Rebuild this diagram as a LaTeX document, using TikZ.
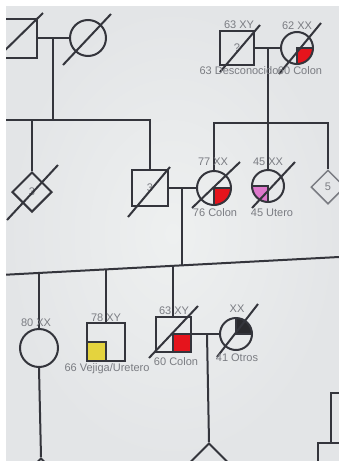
\documentclass[tikz,border=0pt]{standalone}
\usepackage{fontspec}
\setmainfont{Liberation Sans}
\usetikzlibrary{shapes.geometric,calc}
\definecolor{ink}{HTML}{34353C}
\definecolor{labc}{HTML}{7A7C82}
\definecolor{bgc}{HTML}{E3E5E7}
\definecolor{bgin}{HTML}{EEF0F0}
\definecolor{fred}{HTML}{E5141C}
\definecolor{fyel}{HTML}{E4D33E}
\definecolor{fpink}{HTML}{DE78CC}
\definecolor{fblk}{HTML}{2A2A2E}
\begin{document}
\begin{tikzpicture}[x=1pt,y=-1pt,
  conn/.style={draw=ink,line width=2pt},
  slash/.style={draw=ink,line width=2pt},
  male/.style={rectangle,draw=ink,line width=2pt,minimum size=#1,inner sep=0pt,text=labc,font=\fontsize{11}{13}\selectfont},
  female/.style={circle,draw=ink,line width=2pt,minimum size=#1,inner sep=0pt},
  unk/.style={diamond,aspect=1,draw=ink,line width=2pt,minimum size=#1,inner sep=0pt,text=labc,font=\fontsize{11}{13}\selectfont},
  lab/.style={text=labc,inner sep=0pt,font=\fontsize{11}{13}\selectfont},
  qse/.style={path picture={\fill[#1] (path picture bounding box.center) rectangle (path picture bounding box.south east);
     \draw[ink,line width=1.6pt] (path picture bounding box.center) rectangle (path picture bounding box.south east);}},
  qsw/.style={path picture={\fill[#1] (path picture bounding box.center) rectangle (path picture bounding box.south west);
     \draw[ink,line width=1.6pt] (path picture bounding box.center) rectangle (path picture bounding box.south west);}},
  qne/.style={path picture={\fill[#1] (path picture bounding box.center) rectangle (path picture bounding box.north east);
     \draw[ink,line width=1.6pt] (path picture bounding box.center) rectangle (path picture bounding box.north east);}}
]
\useasboundingbox (0,0) rectangle (339,461);
\fill[white] (0,0) rectangle (339,461);
\shade[inner color=bgin,outer color=bgc] (6,6) rectangle (339,461);
\begin{scope}
\clip (6,6) rectangle (339,461);

% Generation I
\node[male=39] (I1) at (17,38) {};
\node[female=36] (I2) at (88,38) {};
\node[male=34] (I3) at (237,48) {?};
\node[female=32,qse=fred] (I4) at (297,48) {};
\draw[slash] ($(I1)+(-26,26)$) -- ($(I1)+(26,-25)$);
\draw[slash] ($(I2)+(-25,27)$) -- ($(I2)+(23,-24)$);
\draw[slash] ($(I3)+(-17,24)$) -- ($(I3)+(23,-23)$);
\draw[slash] ($(I4)+(-18,26)$) -- ($(I4)+(24,-25)$);
\draw[conn] (I1) -- (I2);
\draw[conn] (I3) -- (I4);
\coordinate (m1) at (53,38);
\coordinate (m3) at (268,48);

% Generation II
\node[unk=40] (II1) at (32,192) {3};
\node[male=36] (II2) at (150,188) {3};
\node[female=34,qse=fred] (II3) at (214,188) {};
\node[female=32,qsw=fpink] (II4) at (268,186) {};
\node[unk=34,draw=labc,line width=1.5pt] (II5) at (328,187) {5};
\draw[slash] ($(II1)+(-25,28)$) -- ($(II1)+(26,-27)$);
\draw[slash] ($(II2)+(-22,29)$) -- ($(II2)+(20,-21)$);
\draw[slash] ($(II3)+(-22,20)$) -- ($(II3)+(26,-26)$);
\draw[slash] ($(II4)+(-16,22)$) -- ($(II4)+(27,-24)$);

\coordinate (s1) at (53,120);
\coordinate (sl1) at (6,120);
\coordinate (sr1) at (150,120);
\coordinate (sa1) at (32,120);
\draw[conn] (m1) -- (s1);
\draw[conn] (sl1) -- (sr1) -- (II2.north);
\draw[conn] (sa1) -- (II1.north);

\coordinate (sl2) at (214,123);
\coordinate (sr2) at (328,123);
\draw[conn] (II3.north) -- (sl2) -- (sr2) -- (II5.north);
\draw[conn] (m3) -- (II4.north);
\draw[conn] (II2) -- (II3);
\coordinate (m2) at (182,188);

% Generation III
\coordinate (sl3) at (6,274.7);
\coordinate (sr3) at (339,257);
\coordinate (t1) at (39,272.9);
\coordinate (t2) at (106,269.4);
\coordinate (t3) at (173,265.8);
\coordinate (t4) at (182,265.3);
\draw[conn] (sl3) -- (sr3);
\draw[conn] (m2) -- (t4);

\node[female=38] (III1) at (39,348) {};
\node[male=38,qsw=fyel] (III2) at (106,342) {};
\node[male=35,qse=fred] (III3) at (173,334) {};
\node[female=32,qne=fblk] (III4) at (236,334) {};
\draw[slash] ($(III3)+(-24,24)$) -- ($(III3)+(25,-28)$);
\draw[slash] ($(III4)+(-19,23)$) -- ($(III4)+(22,-30)$);
\draw[conn] (t1) -- (III1.north);
\draw[conn] (t2) -- (III2.north);
\draw[conn] (t3) -- (III3.north);
\draw[conn] (III3) -- (III4);
\coordinate (m4) at (207,334);

% Generation IV (cut off)
\node[unk=40] (IV0) at (41,478) {};
\node[unk=40] (IV1) at (209,463) {};
\node[male=36] (IVr) at (336,461) {};
\draw[conn] (III1.south) -- (IV0.north);
\draw[conn] (m4) -- (IV1.north);
\coordinate (rc) at (339,393);
\draw[conn] (rc) -| ($(IVr.north west)+(14,0)$);

% Labels
\node[lab] (L1) at (239,25) {63 XY};
\node[lab] (L2) at (297,26) {62 XX};
\node[lab] (L3) at (239,71) {63 Desconocido};
\node[lab] (L4) at (300,71) {60 Colon};
\node[lab] (L5) at (213,162) {77 XX};
\node[lab] (L6) at (215,213) {76 Colon};
\node[lab] (L7) at (268,162) {45 XX};
\node[lab] (L8) at (272,213) {45 Utero};
\node[lab] (L9) at (36,323) {80 XX};
\node[lab] (L10) at (106,318) {78 XY};
\node[lab] (L11) at (107,369) {66 Vejiga/Uretero};
\node[lab] (L12) at (174,311) {63 XY};
\node[lab] (L13) at (176,362) {60 Colon};
\node[lab] (L14) at (237,309) {XX};
\node[lab] (L15) at (237,358) {41 Otros};
\end{scope}
\end{tikzpicture}
\end{document}
